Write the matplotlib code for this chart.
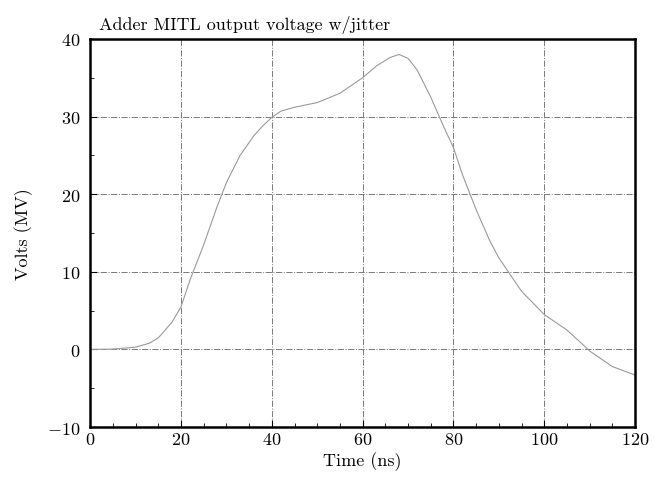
import matplotlib
matplotlib.use("Agg")
import matplotlib.pyplot as plt
from matplotlib.ticker import MultipleLocator

plt.rcParams['font.family'] = 'serif'
plt.rcParams['font.serif'] = ['cmr10', 'DejaVu Serif']
plt.rcParams['axes.formatter.use_mathtext'] = True
plt.rcParams['mathtext.fontset'] = 'cm'

time_ns = [0, 5, 10, 13, 15, 18, 20, 22, 25, 28, 30, 33, 36, 38, 40, 42, 45,
           50, 55, 60, 63, 66, 68, 70, 72, 75, 78, 80, 82, 85, 88, 90, 95,
           100, 105, 108, 110, 115, 120]
volts = [0, 0.05, 0.3, 0.8, 1.5, 3.5, 5.5, 9, 13.5, 18.5, 21.5, 25, 27.5,
         28.8, 29.9, 30.7, 31.2, 31.8, 33, 35, 36.5, 37.6, 38.0, 37.5, 36,
         32.5, 28.5, 26, 22.5, 18, 14, 11.8, 7.5, 4.5, 2.5, 0.9, -0.2, -2.2,
         -3.3]

xticks = [0, 20, 40, 60, 80, 100, 120]
yticks = [-10, 0, 10, 20, 30, 40]

fig = plt.figure(figsize=(6.54, 4.81), dpi=100)
ax = fig.add_axes([0.138, 0.11, 0.833, 0.807])

ax.plot(time_ns, volts, color='#9a9a9a', linewidth=0.8)

ax.set_xlim(0, 120)
ax.set_ylim(-10, 40)
ax.set_xticks(xticks)
ax.set_yticks(yticks)
ax.xaxis.set_minor_locator(MultipleLocator(5))
ax.yaxis.set_minor_locator(MultipleLocator(5))
ax.tick_params(direction='in', length=5, width=0.8, labelsize=13, pad=7)
ax.tick_params(axis='x', pad=3)
ax.tick_params(which='minor', direction='in', length=3, width=0.6)

ax.grid(True, which='major', linestyle='-.', color='#7a7a7a', linewidth=0.7)
for s in ax.spines.values():
    s.set_linewidth(1.8)

ax.set_xlabel('Time (ns)', fontsize=13, labelpad=3)
ax.set_ylabel('Volts (MV)', fontsize=13, labelpad=10)
ax.set_title('Adder MITL output voltage w/jitter', fontsize=13, loc='left',
             x=0.016, pad=7)

fig.savefig('out.png', dpi=100)
